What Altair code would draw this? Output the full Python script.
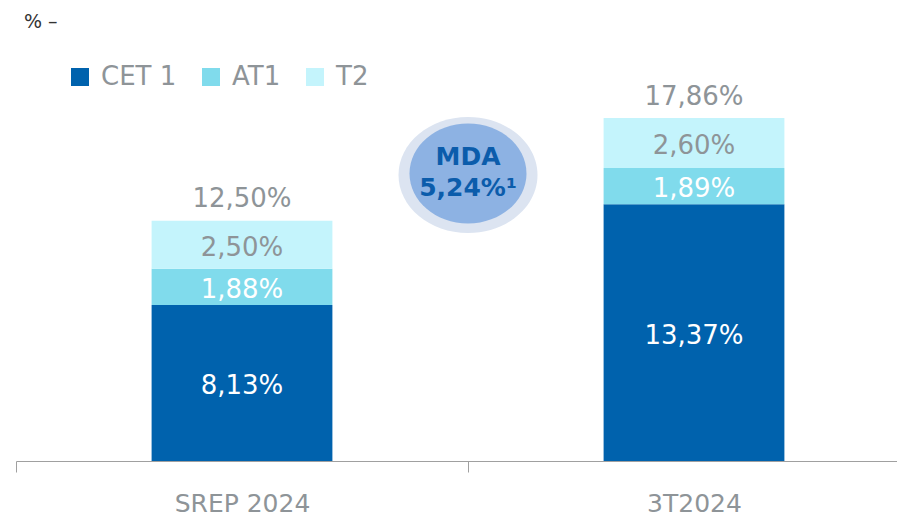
import altair as alt
import pandas as pd

# ---- data ----
categories = ["SREP 2024", "3T2024"]
series = ["CET 1", "AT1", "T2"]
cet1 = [8.13, 13.37]
at1 = [1.88, 1.89]
t2 = [2.50, 2.60]
totals = [12.50, 17.86]
colors = ["#0062AD", "#80DBEC", "#C4F4FC"]
mda_lines = ["MDA", "5,24%¹"]
unit_label = "% –"

FONT = "DejaVu Sans"
GRAY = "#8E9498"


def fmt(v):
    return f"{v:.2f}".replace(".", ",") + "%"


rows = []
for i, c in enumerate(categories):
    base = 0.0
    for s, vals in zip(series, [cet1, at1, t2]):
        v = vals[i]
        rows.append({"cat": c, "series": s, "v": v, "y0": base, "y1": base + v,
                     "mid": base + v / 2, "label": fmt(v)})
        base += v
seg = pd.DataFrame(rows)
tot = pd.DataFrame({"cat": categories, "total": totals, "label": [fmt(t) for t in totals]})
mda = pd.DataFrame({"cat": [categories[1]]})
unit = pd.DataFrame({"t": [unit_label]})

xscale = alt.Scale(domain=categories, range=[0, 904], paddingInner=0, paddingOuter=0)
yscale = alt.Scale(domain=[0, 23.59], nice=False, zero=True)

xenc = alt.X("cat:N", sort=categories, scale=xscale,
             axis=alt.Axis(title=None, domainColor="#A0A0A0", domainWidth=1,
                           tickColor="#A0A0A0", tickSize=11, tickBand="extent",
                           labelFont=FONT, labelFontSize=25, labelColor=GRAY,
                           labelPadding=19, labelAngle=0, grid=False))

bars = alt.Chart(seg).mark_bar(width=alt.RelativeBandSize(0.4)).encode(
    x=xenc,
    y=alt.Y("y0:Q", scale=yscale, axis=None),
    y2="y1:Q",
    color=alt.Color("series:N", scale=alt.Scale(domain=series, range=colors),
                    legend=alt.Legend(orient="none", legendX=51, legendY=56,
                                      direction="horizontal", title=None,
                                      symbolType="square", symbolSize=324,
                                      symbolStrokeWidth=0, symbolOpacity=1,
                                      labelFont=FONT, labelFontSize=26,
                                      labelColor=GRAY, labelOffset=8,
                                      columnPadding=21)),
)

seg_text = alt.Chart(seg).mark_text(font=FONT, fontSize=26, baseline="middle", dy=3).encode(
    x=alt.X("cat:N"),
    y=alt.Y("mid:Q"),
    text="label:N",
    color=alt.condition(alt.datum.series == "T2", alt.value(GRAY), alt.value("white")),
)

tot_text = alt.Chart(tot).mark_text(font=FONT, fontSize=26, baseline="middle",
                                    dy=-21.5, color=GRAY).encode(
    x=alt.X("cat:N"),
    y=alt.Y("total:Q"),
    text="label:N",
)

outer_path = "M -1 0 A 1 0.835 0 1 1 1 0 A 1 0.835 0 1 1 -1 0 Z"
inner_path = "M -1 0 A 1 0.855 0 1 1 1 0 A 1 0.855 0 1 1 -1 0 Z"

outer = alt.Chart(mda).mark_point(shape=outer_path, size=19321, filled=True,
                                  color="#DCE4F1", opacity=1, strokeWidth=0).encode(
    x=alt.X("cat:N", bandPosition=0), y=alt.value(167))
inner = alt.Chart(mda).mark_point(shape=inner_path, size=13689, filled=True,
                                  color="#8DB2E3", opacity=1, strokeWidth=0).encode(
    x=alt.X("cat:N", bandPosition=0), y=alt.value(165.5))
mda_t1 = alt.Chart(mda).mark_text(text=mda_lines[0], font=FONT, fontSize=25,
                                  fontWeight="bold", color="#0B5CAB",
                                  baseline="middle").encode(
    x=alt.X("cat:N", bandPosition=0), y=alt.value(149))
mda_t2 = alt.Chart(mda).mark_text(text=mda_lines[1], font=FONT, fontSize=25,
                                  fontWeight="bold", color="#0B5CAB",
                                  baseline="middle").encode(
    x=alt.X("cat:N", bandPosition=0), y=alt.value(180))

unit_text = alt.Chart(unit).mark_text(font=FONT, fontSize=19, color="#333333",
                                      align="left", baseline="alphabetic").encode(
    x=alt.value(8), y=alt.value(20), text="t:N")

chart = alt.layer(bars, seg_text, tot_text, outer, inner, mda_t1, mda_t2, unit_text).properties(
    width=881, height=453,
    autosize=alt.AutoSizeParams(type="none"),
    padding={"left": 8, "top": 0, "right": 0, "bottom": 56},
    background="white",
).configure_view(stroke=None)

chart.save("out.html", embed_options={"renderer": "svg", "actions": False})
